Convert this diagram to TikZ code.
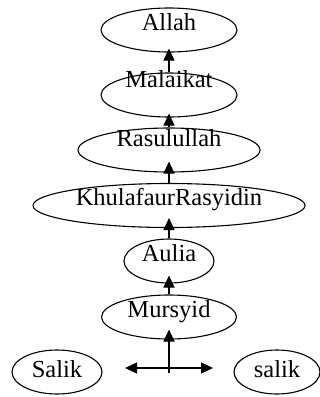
\documentclass[tikz,border=0pt]{standalone}
\usepackage{fontspec}
\setmainfont{Liberation Serif}
\usetikzlibrary{shapes.geometric, arrows.meta}

\begin{document}
\begin{tikzpicture}[x=1pt, y=-1pt, >={Triangle[length=12pt, width=11pt]},
        tahap/.style={draw, ellipse, line width=1.1pt, inner sep=0pt, minimum height=44pt,
            text height=12pt, text depth=12pt, font=\fontsize{24.5}{28}\selectfont},
        panah/.style={->, line width=1.1pt}]
        \useasboundingbox (0,0) rectangle (320,397);

        \node[tahap, minimum width=136pt] (allah) at (169,30) {Allah};
        \node[tahap, minimum width=136pt, text height=4pt, text depth=20pt] (malaikat) at (169,95) {Malaikat};
        \node[tahap, minimum width=182pt, text height=8pt, text depth=16pt] (rasul) at (169,150) {Rasulullah};
        \node[tahap, minimum width=272pt] (khulafa) at (169,205.5) {KhulafaurRasyidin};
        \node[tahap, minimum width=90pt] (aulia) at (169,261) {Aulia};
        \node[tahap, minimum width=135pt] (mursyid) at (169,317) {Mursyid};

        \node[tahap, minimum width=90pt, text height=17pt, text depth=7pt] (salikkiri) at (57,372) {Salik};
        \node[tahap, minimum width=86pt, text height=17pt, text depth=7pt] (salikkanan) at (277,372) {salik};

        \coordinate (pusat) at (169,373);
        \coordinate (kiri) at (125,368);
        \coordinate (kanan) at (213,368);

        \draw[panah, shorten >=-4pt] (malaikat) -- (allah);
        \draw[panah, shorten >=-4pt] (rasul) -- (malaikat);
        \draw[panah, shorten >=-11pt] (khulafa) -- (rasul);
        \draw[panah, shorten >=-10pt] (aulia) -- (khulafa);
        \draw[panah, shorten >=-8pt] (mursyid) -- (aulia);
        \draw[panah, shorten >=-10pt] (pusat) -- (mursyid);
        \draw[<->, line width=1.1pt] (kiri) -- (kanan);
    \end{tikzpicture}
\end{document}
